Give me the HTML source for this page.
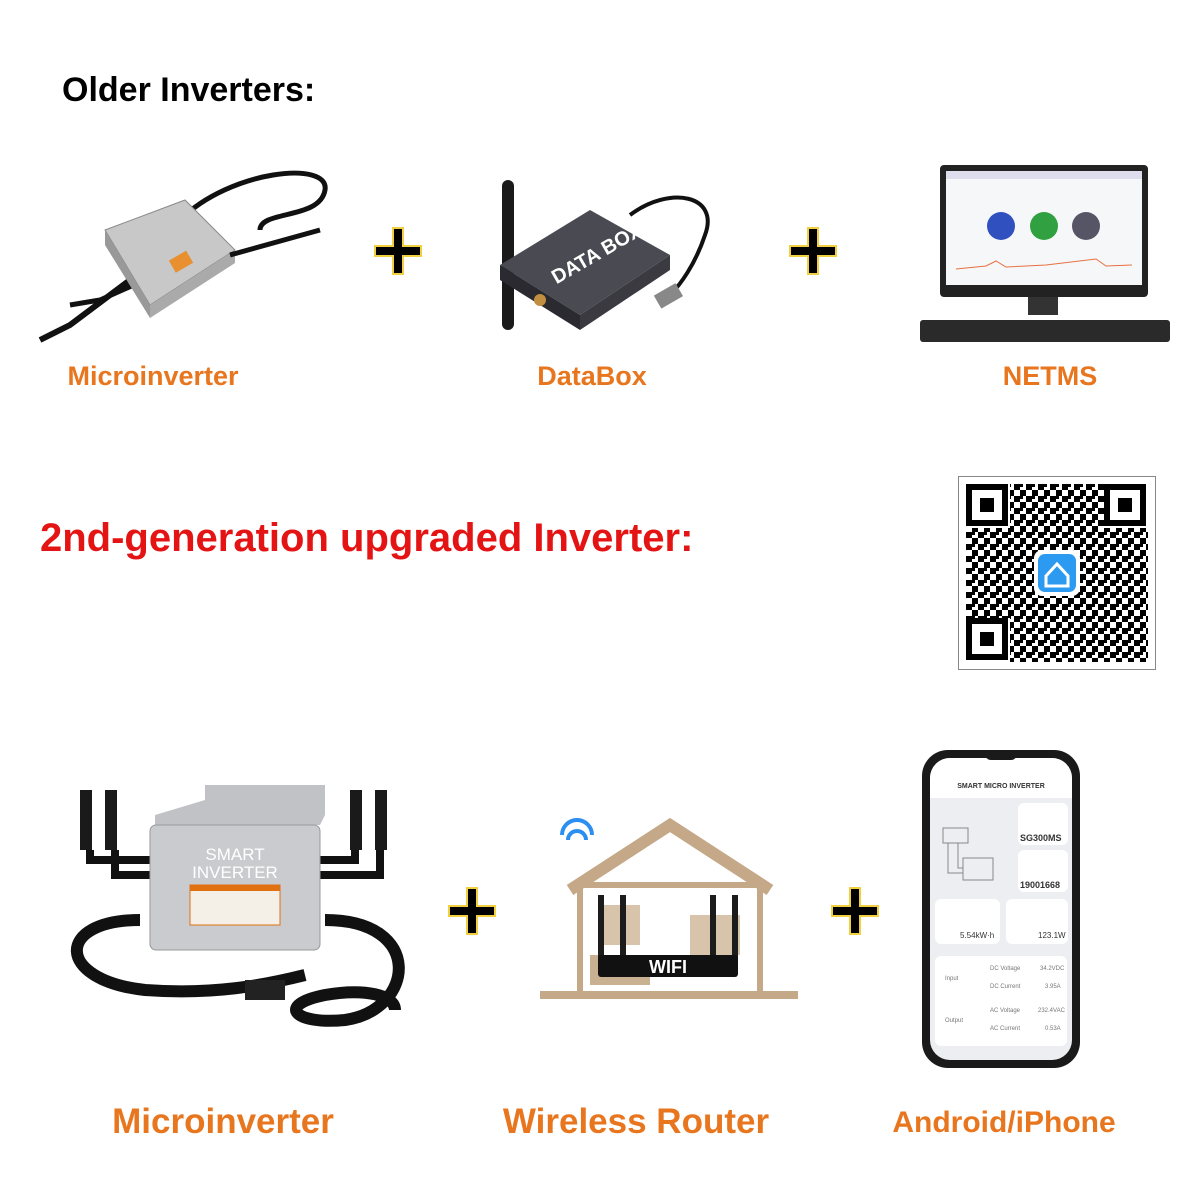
<!DOCTYPE html>
<html><head><meta charset="utf-8"><style>
body{margin:0;width:1200px;height:1200px;background:#fff;position:relative;overflow:hidden;font-family:"Liberation Sans",sans-serif}
.a{position:absolute}
.lbl{position:absolute;color:#e8761e;font-weight:bold;transform:translateX(-50%);white-space:nowrap}
.card{position:absolute;background:#fff;border-radius:6px}
</style></head><body>
<div class="a" style="left:62px;top:71px;font-size:34px;font-weight:bold">Older Inverters:</div>

<!-- top microinverter -->
<svg class="a" style="left:30px;top:160px" width="310" height="190">
<path d="M150 60 C200 10 300 0 295 30 C290 60 230 50 230 70" stroke="#111" stroke-width="5" fill="none"/>
<path d="M140 90 L40 165 L10 180" stroke="#111" stroke-width="6" fill="none"/>
<path d="M160 100 L70 140 L40 145" stroke="#111" stroke-width="5" fill="none"/>
<polygon points="75,70 155,40 205,90 120,145" fill="#c8c8c8" stroke="#888"/>
<polygon points="75,70 120,145 120,158 75,85" fill="#999"/>
<polygon points="120,145 205,90 205,103 120,158" fill="#aaa"/>
<rect x="140" y="95" width="20" height="14" fill="#e89030" transform="rotate(-30 150 100)"/>
<path d="M200 95 L290 70" stroke="#111" stroke-width="5"/>
</svg>
<svg class="a" style="left:373px;top:226px" width="50" height="50"><path d="M20 2h10v18h18v10h-18v18h-10v-18h-18v-10h18z" fill="#000" stroke="#f0d040" stroke-width="2"/></svg>

<!-- databox -->
<svg class="a" style="left:490px;top:175px" width="230" height="160">
<rect x="12" y="5" width="12" height="150" rx="6" fill="#1a1a1a"/>
<path d="M140 40 C180 10 230 20 215 60 C205 90 190 110 180 120" stroke="#111" stroke-width="4" fill="none"/>
<rect x="165" y="115" width="25" height="15" fill="#888" transform="rotate(-30 175 120)"/>
<polygon points="10,90 100,35 180,80 90,140" fill="#4a4a52"/>
<polygon points="10,90 90,140 90,155 10,105" fill="#2a2a30"/>
<polygon points="90,140 180,80 180,95 90,155" fill="#3a3a40"/>
<text x="60" y="95" fill="#fff" font-size="20" font-weight="bold" transform="rotate(-30 90 90)">DATA BOX</text>
<circle cx="50" cy="125" r="6" fill="#c09040"/>
</svg>
<svg class="a" style="left:788px;top:226px" width="50" height="50"><path d="M20 2h10v18h18v10h-18v18h-10v-18h-18v-10h18z" fill="#000" stroke="#f0d040" stroke-width="2"/></svg>

<!-- monitor -->
<div class="a" style="left:940px;top:165px;width:208px;height:132px;background:#222;border-radius:4px"></div>
<div class="a" style="left:946px;top:171px;width:196px;height:114px;background:#f6f7f9"></div>
<svg class="a" style="left:946px;top:171px" width="196" height="114">
<rect width="196" height="8" fill="#dde"/>
<circle cx="55" cy="55" r="14" fill="#3050c0"/><circle cx="98" cy="55" r="14" fill="#30a040"/><circle cx="140" cy="55" r="14" fill="#556"/>
<path d="M10 98 L40 95 L50 90 L60 96 L100 94 L150 88 L160 95 L186 94" stroke="#e87040" fill="none"/>
</svg>
<div class="a" style="left:1028px;top:297px;width:30px;height:18px;background:#333"></div>
<div class="a" style="left:920px;top:320px;width:250px;height:22px;background:#2a2a2a;border-radius:3px"></div>

<div class="lbl" style="left:153px;top:361px;font-size:27px">Microinverter</div>
<div class="lbl" style="left:592px;top:361px;font-size:27px">DataBox</div>
<div class="lbl" style="left:1050px;top:361px;font-size:27px">NETMS</div>

<div class="a" style="left:40px;top:516px;font-size:40px;font-weight:bold;color:#e41414">2nd-generation upgraded Inverter:</div>

<!-- QR -->
<div class="a" style="left:958px;top:476px;width:196px;height:192px;border:1px solid #888;background:#fff"></div>
<svg class="a" style="left:966px;top:484px" width="182" height="178">
<defs><pattern id="q" width="12" height="12" patternUnits="userSpaceOnUse"><rect width="6" height="6" fill="#000"/><rect x="6" y="6" width="6" height="6" fill="#000"/><rect x="6" width="3" height="3" fill="#000"/></pattern></defs>
<rect width="182" height="178" fill="url(#q)"/>
<g fill="#fff"><rect width="44" height="44"/><rect x="138" width="44" height="44"/><rect y="134" width="44" height="44"/></g>
<g fill="none" stroke="#000" stroke-width="6"><rect x="3" y="3" width="36" height="36"/><rect x="141" y="3" width="36" height="36"/><rect x="3" y="137" width="36" height="36"/></g>
<g fill="#000"><rect x="14" y="14" width="14" height="14"/><rect x="152" y="14" width="14" height="14"/><rect x="14" y="148" width="14" height="14"/></g>
<rect x="68" y="66" width="46" height="46" rx="8" fill="#fff"/>
<rect x="72" y="70" width="38" height="38" rx="7" fill="#2b9af0"/>
<path d="M80 92 L91 80 L102 92 L102 102 L80 102 Z" fill="none" stroke="#fff" stroke-width="3"/>
</svg>

<!-- bottom microinverter -->
<svg class="a" style="left:65px;top:780px" width="350" height="250">
<path d="M75 140 C-10 140 -10 200 80 210 C150 215 200 205 240 195" stroke="#111" stroke-width="12" fill="none"/>
<path d="M260 140 C360 140 350 230 280 240 C230 245 210 225 260 215 C300 208 330 215 330 230" stroke="#111" stroke-width="12" fill="none"/>
<rect x="180" y="200" width="40" height="20" fill="#222"/>
<g fill="#1a1a1a"><rect x="15" y="10" width="12" height="60"/><rect x="40" y="10" width="12" height="60"/><rect x="285" y="10" width="12" height="60"/><rect x="310" y="10" width="12" height="60"/></g>
<path d="M25 70 L25 80 L85 80 M50 70 L50 95 L85 95 M290 70 L290 80 L250 80 M315 70 L315 95 L250 95" stroke="#111" stroke-width="8" fill="none"/>
<path d="M90 35 L140 20 L140 5 L260 5 L260 35 L255 45 L90 45 Z" fill="#c0c2c6"/>
<rect x="85" y="45" width="170" height="125" rx="6" fill="#c9cbcf" stroke="#999"/>
<text x="170" y="80" text-anchor="middle" fill="#fff" font-size="17">SMART</text>
<text x="170" y="98" text-anchor="middle" fill="#fff" font-size="17">INVERTER</text>
<rect x="125" y="105" width="90" height="40" fill="#f4f0e8" stroke="#e07010"/>
<rect x="125" y="105" width="90" height="6" fill="#e07010"/>
</svg>
<svg class="a" style="left:447px;top:886px" width="50" height="50"><path d="M20 2h10v18h18v10h-18v18h-10v-18h-18v-10h18z" fill="#000" stroke="#f0d040" stroke-width="2"/></svg>

<!-- house -->
<svg class="a" style="left:540px;top:805px" width="260" height="200">
<path d="M30 85 L130 20 L230 85" stroke="#c4a888" stroke-width="12" fill="none"/>
<rect x="40" y="80" width="180" height="110" fill="none" stroke="#c4a888" stroke-width="6"/>
<rect x="0" y="186" width="258" height="8" fill="#c4a888"/>
<rect x="60" y="100" width="40" height="40" fill="#d8c4aa"/><rect x="150" y="110" width="50" height="40" fill="#d8c4aa"/>
<rect x="50" y="150" width="60" height="30" fill="#c8b090"/>
<g fill="#1c1c1c"><rect x="58" y="90" width="6" height="70"/><rect x="80" y="90" width="6" height="70"/><rect x="170" y="90" width="6" height="70"/><rect x="192" y="90" width="6" height="70"/></g>
<rect x="58" y="150" width="140" height="22" rx="3" fill="#111"/>
<text x="128" y="168" text-anchor="middle" fill="#fff" font-size="18" font-weight="bold">WIFI</text>
<path d="M22 30 a15 15 0 0 1 30 0 M28 35 a9 9 0 0 1 18 0" stroke="#2b8ef0" stroke-width="4" fill="none"/>
</svg>
<svg class="a" style="left:830px;top:886px" width="50" height="50"><path d="M20 2h10v18h18v10h-18v18h-10v-18h-18v-10h18z" fill="#000" stroke="#f0d040" stroke-width="2"/></svg>

<!-- phone -->
<div class="a" style="left:922px;top:750px;width:158px;height:318px;background:#1a1a1a;border-radius:26px"></div>
<div class="a" style="left:930px;top:758px;width:142px;height:302px;background:#eceef1;border-radius:20px;overflow:hidden;font-size:7px;color:#333">
<div style="position:absolute;left:0;top:0;width:142px;height:40px;background:#fff"></div>
<div style="position:absolute;left:0;width:142px;text-align:center;top:25px;font-weight:bold">SMART MICRO INVERTER</div>
<div class="card" style="left:88px;top:45px;width:50px;height:42px"></div>
<div style="position:absolute;left:90px;top:75px;font-weight:bold;font-size:9px">SG300MS</div>
<div class="card" style="left:88px;top:92px;width:50px;height:42px"></div>
<div style="position:absolute;left:90px;top:122px;font-weight:bold;font-size:9px">19001668</div>
<svg style="position:absolute;left:8px;top:50px" width="75" height="80"><g fill="none" stroke="#888"><rect x="5" y="20" width="25" height="15"/><rect x="25" y="50" width="30" height="22"/><path d="M10 35v30h15M20 35v25h5"/></g></svg>
<div class="card" style="left:5px;top:141px;width:65px;height:45px"></div>
<div class="card" style="left:76px;top:141px;width:62px;height:45px"></div>
<div style="position:absolute;left:30px;top:173px;font-size:8px">5.54kW·h</div>
<div style="position:absolute;left:108px;top:173px;font-size:8px">123.1W</div>
<div class="card" style="left:5px;top:198px;width:132px;height:90px;font-size:6px;color:#777">
<div style="position:absolute;left:10px;top:20px">Input</div><div style="position:absolute;left:10px;top:62px">Output</div>
<div style="position:absolute;left:55px;top:10px">DC Voltage</div><div style="position:absolute;left:105px;top:10px">34.2VDC</div>
<div style="position:absolute;left:55px;top:28px">DC Current</div><div style="position:absolute;left:110px;top:28px">3.95A</div>
<div style="position:absolute;left:55px;top:52px">AC Voltage</div><div style="position:absolute;left:103px;top:52px">232.4VAC</div>
<div style="position:absolute;left:55px;top:70px">AC Current</div><div style="position:absolute;left:110px;top:70px">0.53A</div>
</div>
</div>
<div class="a" style="left:985px;top:752px;width:32px;height:8px;background:#1a1a1a;border-radius:0 0 6px 6px"></div>

<div class="lbl" style="left:223px;top:1102px;font-size:35px">Microinverter</div>
<div class="lbl" style="left:636px;top:1102px;font-size:35px">Wireless Router</div>
<div class="lbl" style="left:1004px;top:1106px;font-size:30px">Android/iPhone</div>
</body></html>
